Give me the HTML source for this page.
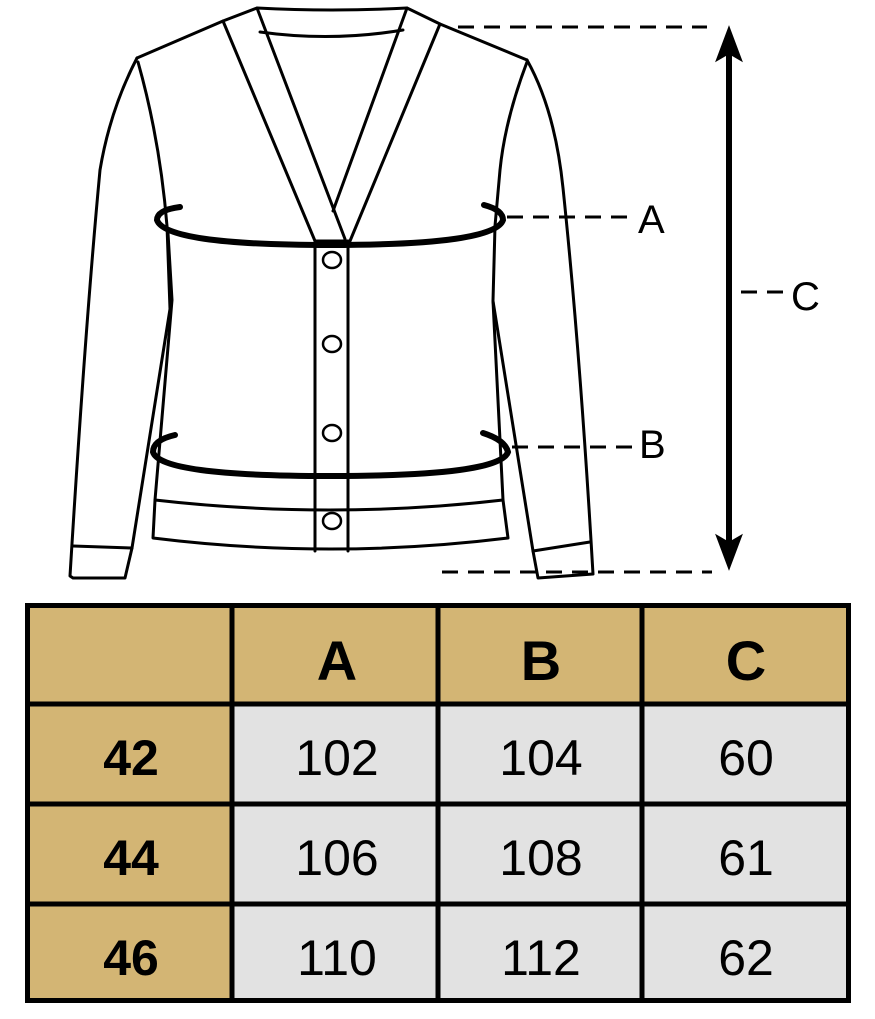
<!DOCTYPE html>
<html><head><meta charset="utf-8"><style>
html,body{margin:0;padding:0;background:#fff;}
svg{display:block;}
</style></head><body>
<svg width="875" height="1019" viewBox="0 0 875 1019" xmlns="http://www.w3.org/2000/svg">
<g fill="none" stroke="#000" stroke-width="3" stroke-linejoin="round" stroke-linecap="round">
  <!-- collar / neck -->
  <path d="M137,58 L223,21 L257,8 Q332,12 407,8 L440,24 L527,60"/>
  <path d="M260,32 Q332,42 403,30"/>
  <path d="M223,21 L315,241"/>
  <path d="M257,8 L345,239"/>
  <path d="M440,24 L350,241"/>
  <path d="M407,8 L333,211"/>
  <!-- left sleeve -->
  <path d="M137,58 Q110,110 100,170 Q85,330 70,576 L73,578 L125,578 L132,548"/>
  <path d="M73,546 L132,548"/>
  <path d="M138,62 Q160,140 167,226 L170,309 L132,548"/>
  <!-- right sleeve -->
  <path d="M527,60 Q555,110 563,188 Q580,350 593,574 L538,578 L533,551"/>
  <path d="M533,551 L590,542"/>
  <path d="M527,62 Q505,120 500,170 L495,226 L493,301 L533,551"/>
  <!-- body sides -->
  <path d="M168,233 L172,300 L155,500 L153,538 Q330,560 508,538 L503,500 L493,301"/>
  <path d="M155,500 Q330,520 503,500" />
  <!-- placket -->
  <path d="M315,241 L315,551 M348,241 L348,551"/>
  <path d="M315,241 L348,241"/>
</g>
<!-- buttons -->
<g fill="#fff" stroke="#000" stroke-width="2.5">
  <ellipse cx="332" cy="260" rx="9" ry="8"/>
  <ellipse cx="332" cy="344" rx="9" ry="8"/>
  <ellipse cx="332" cy="433" rx="9" ry="8"/>
  <ellipse cx="332" cy="521" rx="9" ry="8"/>
</g>
<!-- measurement bands -->
<g fill="none" stroke="#000" stroke-width="6" stroke-linecap="round">
  <path d="M180,207 Q157,210 157,220 Q165,245 330,245 Q495,245 503,220 Q503,210 484,205"/>
  <path d="M175,435 Q153,440 153,452 Q160,476 330,476 Q500,476 508,452 Q505,440 483,433"/>
</g>
<!-- dashed guides -->
<g stroke="#000" stroke-width="3" stroke-dasharray="16,10" fill="none">
  <path d="M458,27 L707,27"/>
  <path d="M507,217 L628,217"/>
  <path d="M512,447 L632,447"/>
  <path d="M741,292 L788,292"/>
  <path d="M442,572 L712,572"/>
</g>
<!-- C arrow -->
<path d="M729,50 L729,548" stroke="#000" stroke-width="6"/>
<path d="M729,28 L741,60 L729,53 L717,60 Z" fill="#000" stroke="#000" stroke-width="2"/>
<path d="M729,568 L741,536 L729,543 L717,536 Z" fill="#000" stroke="#000" stroke-width="2"/>
<g font-family="Liberation Sans, sans-serif" font-size="40" fill="#000">
  <text x="638" y="233">A</text>
  <text x="639" y="458">B</text>
  <text x="791" y="310">C</text>
</g>
<!-- table -->
<rect x="27" y="605" width="822" height="396" fill="#e2e2e2"/>
<rect x="27" y="605" width="822" height="99" fill="#d3b574"/>
<rect x="27" y="605" width="205" height="396" fill="#d3b574"/>
<g stroke="#000" stroke-width="5" fill="none">
  <rect x="27.5" y="605.5" width="821" height="395"/>
  <path d="M232,605 V1001 M438,605 V1001 M642,605 V1001"/>
  <path d="M27,704 H849 M27,804 H849 M27,904 H849"/>
</g>
<g font-family="Liberation Sans, sans-serif" fill="#000" text-anchor="middle">
  <g font-weight="bold" font-size="56">
    <text x="337" y="680">A</text>
    <text x="541" y="680">B</text>
    <text x="746" y="680">C</text>
  </g>
  <g font-weight="bold" font-size="50">
    <text x="131" y="775">42</text>
    <text x="131" y="875">44</text>
    <text x="131" y="975">46</text>
  </g>
  <g font-size="50">
    <text x="337" y="775">102</text>
    <text x="541" y="775">104</text>
    <text x="746" y="775">60</text>
    <text x="337" y="875">106</text>
    <text x="541" y="875">108</text>
    <text x="746" y="875">61</text>
    <text x="337" y="975">110</text>
    <text x="541" y="975">112</text>
    <text x="746" y="975">62</text>
  </g>
</g>
</svg>
</body></html>
